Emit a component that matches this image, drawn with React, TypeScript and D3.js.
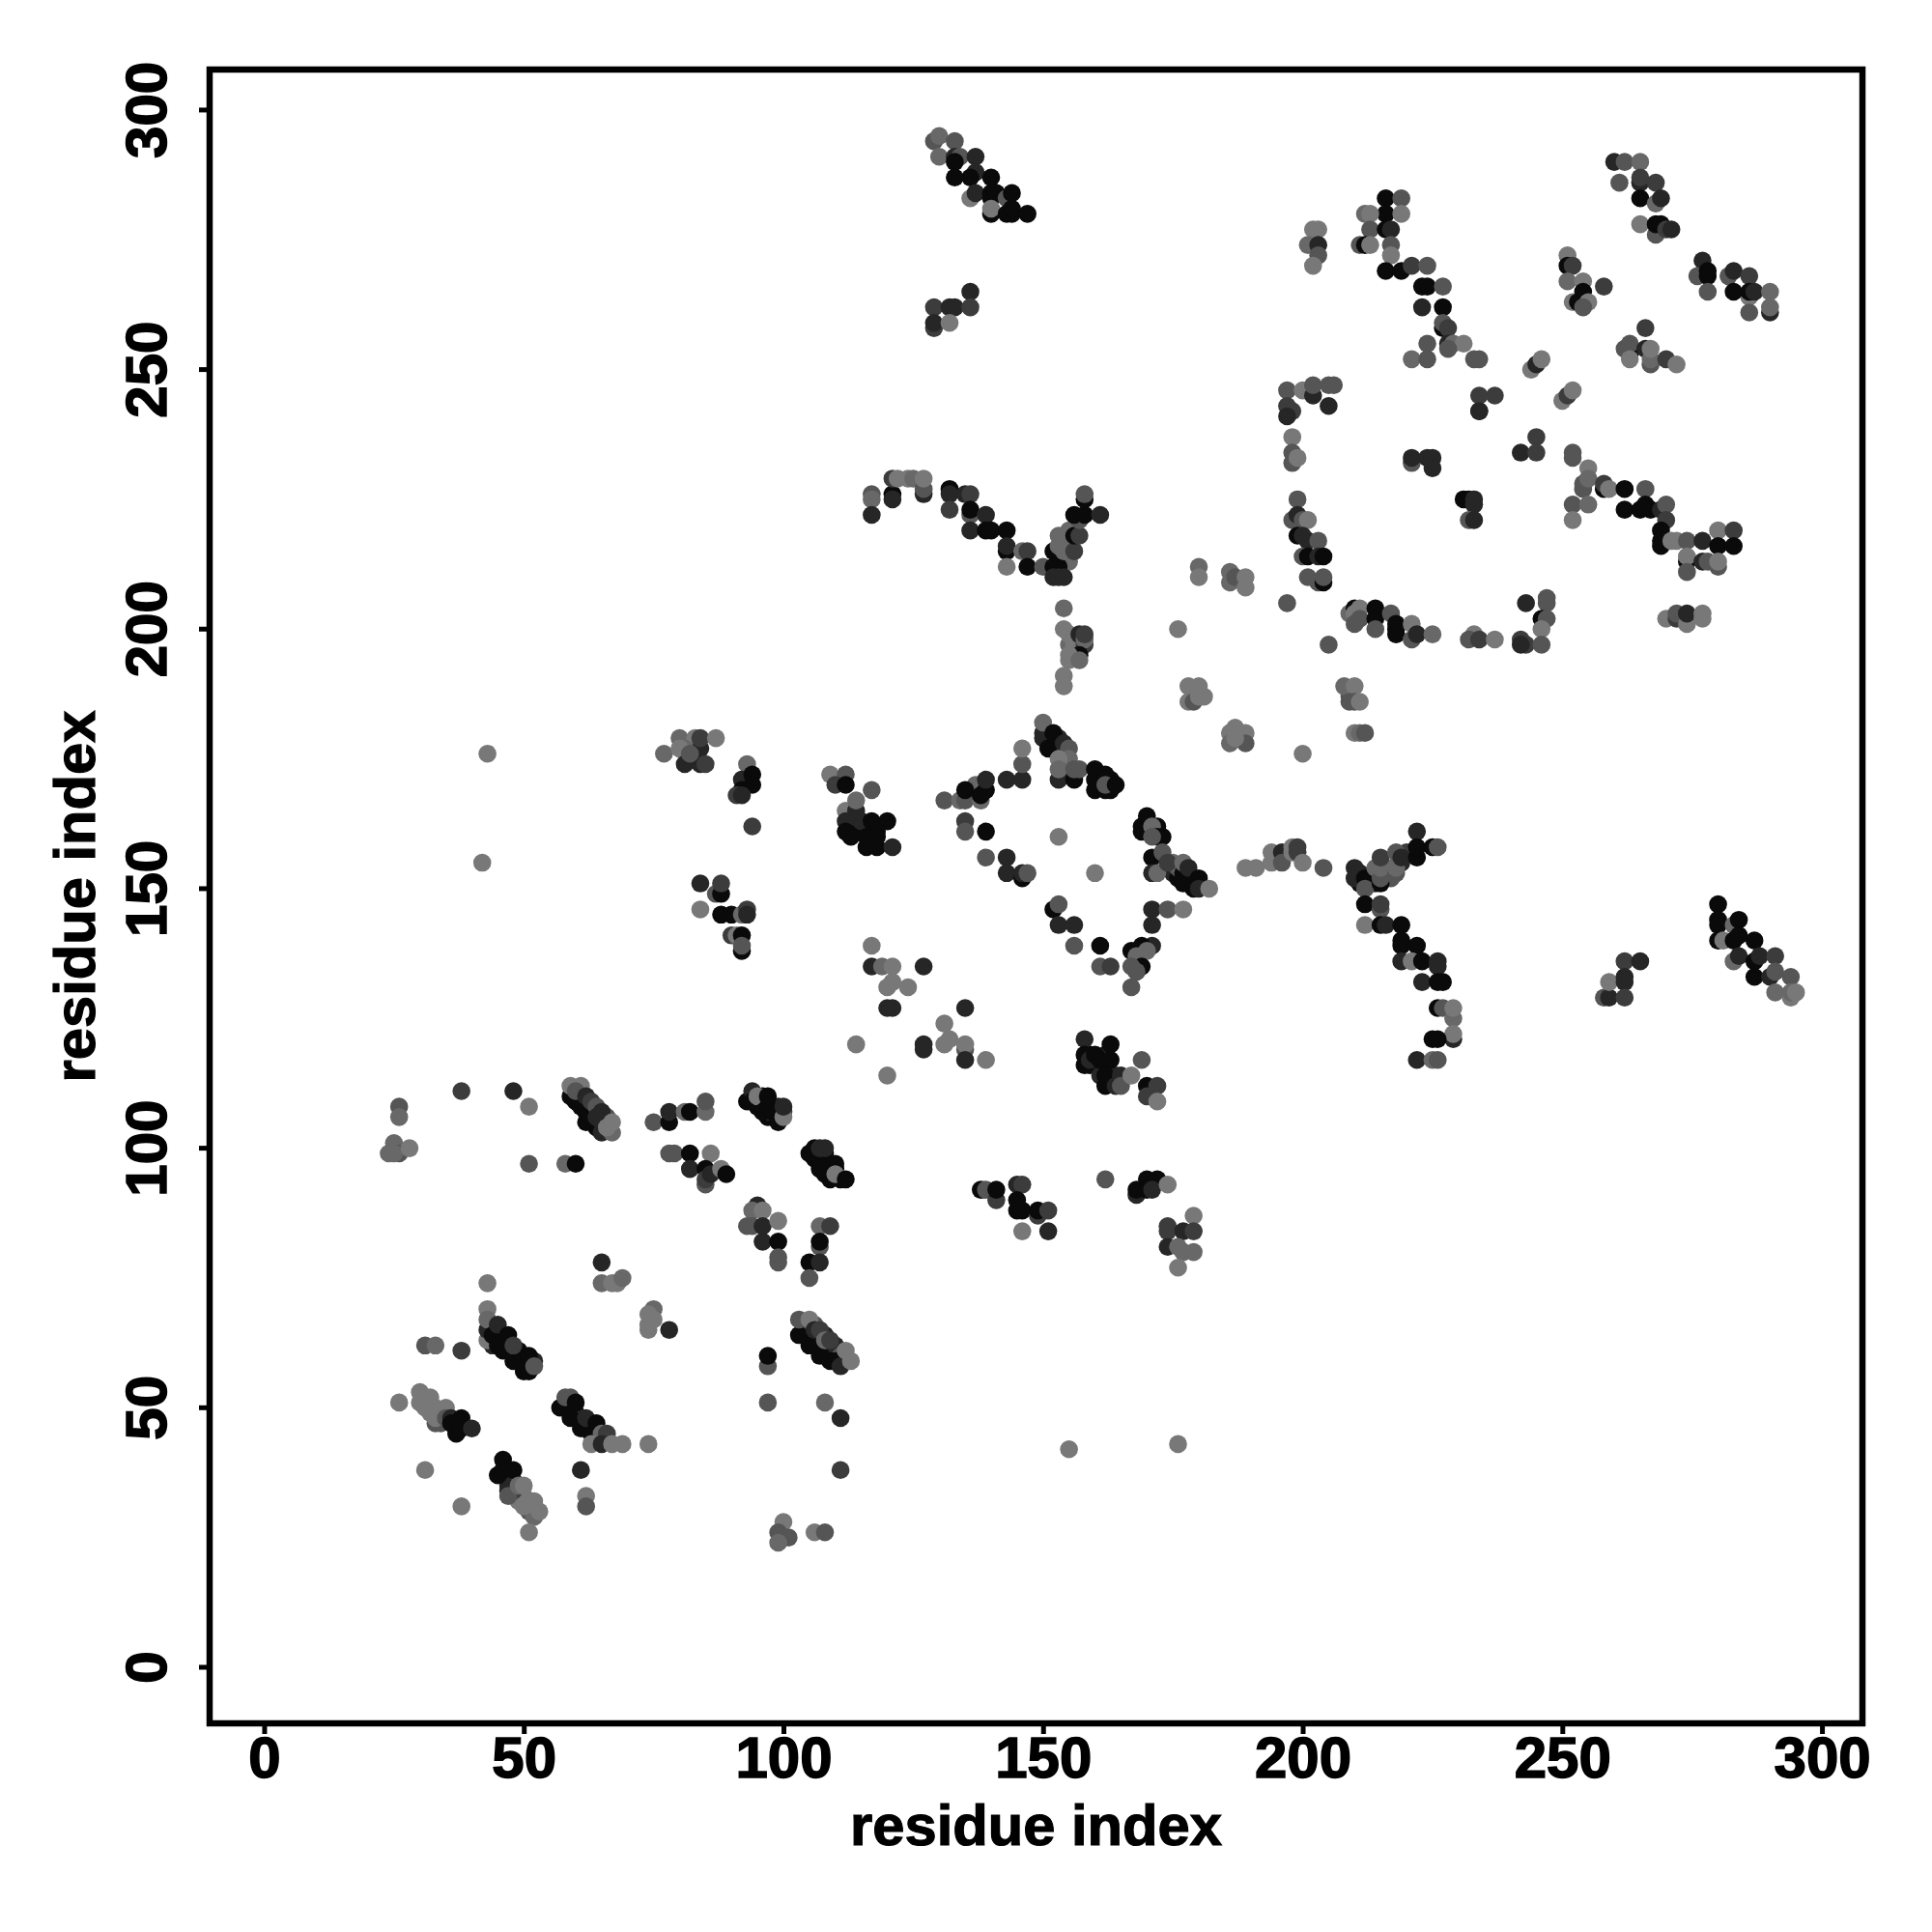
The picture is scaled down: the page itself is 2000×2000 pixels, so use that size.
import React from "react"
import * as d3 from "d3"

type Contact = [number, number, number]

// [residue i, residue j, shade] : shade 0 is the darkest, 5 the palest
const helixCores: Contact[] = [
  [46, 64, 0], [47, 62, 0], [48, 61, 0], [49, 59, 0], [50, 60, 0], [51, 59, 0], [52, 59, 1], [50, 58, 0], [44, 62, 1], [45, 64, 1],
  [61, 110, 3], [63, 107, 0], [65, 106, 1], [66, 106, 3], [62, 109, 1], [62, 105, 0],
  [95, 108, 0], [95, 109, 0], [96, 109, 0], [97, 106, 0], [98, 108, 0], [99, 107, 0], [98, 106, 0], [99, 108, 1], [100, 107, 2], [96, 110, 0], [97, 107, 1],
  [106, 98, 0], [107, 98, 0], [108, 97, 0], [109, 96, 0], [110, 96, 0], [108, 99, 0], [111, 94, 0],
  [104, 65, 0], [105, 64, 0], [106, 63, 0], [107, 62, 0], [108, 61, 0], [109, 61, 0], [110, 60, 0], [111, 59, 0], [106, 66, 3], [104, 66, 3], [108, 64, 1], [110, 62, 1], [111, 60, 3], [112, 59, 4],
  [58, 50, 0], [59, 50, 1], [60, 49, 0], [61, 48, 1], [62, 46, 0], [63, 47, 1], [64, 45, 0], [65, 44, 1], [66, 44, 1], [59, 52, 3],
  [31, 51, 5], [32, 50, 5], [34, 49, 5], [34, 47, 3], [37, 47, 0], [37, 46, 0], [38, 47, 0],
  [47, 36, 1], [47, 35, 1], [48, 33, 3], [49, 33, 5], [49, 32, 5], [48, 36, 1], [50, 33, 5], [48, 34, 2], [51, 31, 5],
  [113, 164, 1], [113, 162, 0], [114, 163, 0], [115, 161, 0], [116, 162, 0], [117, 161, 0], [117, 159, 0], [118, 161, 0], [115, 163, 1], [113, 160, 0],
  [151, 179, 0], [152, 178, 0], [153, 177, 1], [154, 176, 3], [153, 179, 1], [155, 173, 3], [154, 172, 4], [155, 172, 1], [161, 170, 0], [161, 172, 0], [163, 171, 0],
  [170, 162, 0], [170, 163, 0], [171, 161, 0],
  [175, 153, 1], [176, 152, 0], [178, 151, 0], [178, 152, 1], [179, 152, 1], [176, 154, 3], [175, 155, 4],
  [211, 151, 0], [213, 152, 0], [214, 151, 1], [216, 153, 4], [217, 154, 4], [217, 152, 3], [219, 155, 1], [220, 157, 2], [211, 153, 1],
  [159, 116, 0], [159, 118, 0], [160, 116, 0], [161, 115, 0], [162, 116, 0], [163, 114, 0], [163, 113, 0], [164, 114, 1], [161, 114, 1], [162, 118, 1],
  [155, 197, 4], [156, 197, 5], [156, 195, 4], [156, 196, 5], [158, 197, 2],
  [154, 217, 4], [155, 213, 4], [154, 213, 4], [155, 219, 4], [153, 212, 0],
]

const lowerLeft: Contact[] = [
  [26, 108, 3], [26, 106, 4], [25, 101, 4], [24, 99, 4], [26, 99, 3], [25, 99, 4], [28, 100, 5],
  [38, 111, 2], [48, 111, 1], [51, 108, 5], [51, 97, 3], [58, 97, 4], [60, 97, 0],
  [59, 110, 0], [60, 109, 0], [62, 107, 0], [63, 106, 0], [64, 104, 0], [65, 103, 1], [61, 108, 0],
  [59, 112, 5], [61, 112, 5], [60, 111, 3], [62, 110, 1], [63, 109, 2], [64, 108, 3], [65, 107, 1], [64, 106, 1], [65, 105, 1],
  [67, 103, 4], [66, 104, 5], [67, 105, 5],
  [75, 105, 3], [78, 105, 0], [78, 107, 1], [81, 107, 4], [82, 107, 0], [85, 107, 4], [85, 109, 3],
  [78, 99, 3], [79, 99, 3], [82, 99, 0], [86, 99, 5], [82, 96, 1], [85, 96, 0], [85, 93, 3], [85, 94, 2], [86, 95, 1], [88, 96, 5], [89, 95, 0],
  [93, 109, 0], [94, 111, 1], [94, 109, 0], [95, 110, 5], [96, 107, 0], [97, 110, 0], [97, 108, 0], [98, 107, 0], [99, 105, 0], [100, 106, 5], [100, 108, 1],
  [105, 99, 0], [106, 100, 0], [107, 100, 1], [108, 100, 1], [107, 96, 0], [108, 95, 0], [110, 97, 0], [109, 94, 0], [110, 95, 5], [112, 94, 0],
  [95, 89, 1], [94, 88, 4], [96, 88, 5], [93, 85, 3], [94, 85, 3], [96, 85, 1], [99, 86, 5], [96, 82, 1], [99, 82, 0], [99, 79, 3], [99, 78, 3],
  [107, 85, 4], [109, 85, 2], [107, 81, 3], [107, 82, 0], [105, 78, 0], [107, 78, 1], [105, 75, 3],
  [65, 78, 1], [65, 74, 4], [67, 74, 5], [68, 74, 5], [69, 75, 4],
  [43, 74, 5], [43, 69, 5], [43, 63, 5], [43, 65, 1], [43, 67, 4], [44, 64, 0], [45, 62, 0], [46, 61, 0], [48, 59, 0], [50, 57, 0], [51, 57, 0], [49, 61, 0], [51, 60, 0],
  [45, 66, 1], [47, 64, 0], [48, 62, 2], [52, 58, 3],
  [31, 62, 3], [33, 62, 4], [38, 61, 2],
  [74, 65, 5], [75, 69, 4], [74, 66, 5], [74, 68, 5], [75, 67, 5], [78, 65, 1],
  [103, 64, 0], [105, 62, 0], [107, 60, 0], [109, 59, 0], [110, 59, 0], [111, 58, 1],
  [103, 67, 3], [105, 67, 5], [106, 65, 1], [107, 65, 2], [108, 63, 4], [109, 63, 2], [112, 61, 5], [113, 59, 5],
  [97, 58, 3], [97, 60, 0], [97, 51, 3], [108, 51, 4], [111, 48, 1], [111, 38, 2],
]

const lowerLeftPairs: Contact[] = [
  [26, 51, 5], [33, 47, 3], [30, 53, 5], [32, 52, 5], [30, 51, 5], [31, 50, 5], [33, 50, 5], [35, 50, 5], [33, 48, 5], [32, 49, 5],
  [35, 48, 3], [36, 48, 1], [37, 45, 0], [36, 47, 0], [38, 48, 0], [38, 46, 0], [40, 46, 1],
  [46, 40, 0], [45, 37, 0], [46, 38, 0], [48, 38, 0], [47, 34, 1], [47, 33, 3], [49, 35, 4], [50, 35, 5], [51, 30, 3], [52, 29, 4], [50, 31, 5], [51, 32, 5], [52, 32, 5], [53, 30, 5],
  [51, 26, 5], [31, 38, 5], [38, 31, 5], [61, 38, 1], [62, 33, 5], [62, 31, 3],
  [57, 50, 0], [59, 48, 0], [61, 46, 0], [63, 45, 0], [58, 52, 3], [60, 51, 0], [62, 48, 1], [64, 47, 0], [65, 45, 4], [66, 45, 2], [63, 43, 5], [65, 43, 1], [67, 43, 5], [69, 43, 5], [74, 43, 5],
  [100, 28, 5], [99, 26, 3], [101, 25, 3], [99, 24, 4], [106, 26, 5], [108, 26, 3],
]

const middleLeft: Contact[] = [
  [77, 176, 4], [80, 179, 4], [83, 179, 5], [84, 177, 1], [84, 179, 2], [87, 179, 5], [81, 177, 4], [80, 177, 5], [81, 174, 1], [84, 174, 1], [85, 174, 2], [82, 176, 3],
  [93, 174, 4], [92, 171, 1], [92, 169, 0], [94, 172, 0], [94, 170, 0], [91, 168, 2], [92, 168, 1], [94, 162, 2],
  [109, 172, 5], [112, 172, 3], [110, 170, 2], [112, 170, 0], [117, 169, 3], [112, 165, 5], [114, 165, 1], [114, 167, 4], [112, 163, 1], [112, 161, 0],
  [117, 163, 0], [120, 163, 0], [116, 160, 0], [116, 158, 0], [118, 158, 0], [118, 160, 0], [121, 158, 1],
  [84, 151, 1], [87, 149, 3], [88, 149, 0], [88, 151, 2], [84, 146, 5], [88, 145, 0], [90, 145, 0], [92, 145, 4], [93, 146, 2], [93, 145, 1],
  [90, 141, 2], [91, 141, 5], [92, 141, 0], [92, 138, 0], [92, 139, 3],
  [117, 139, 5], [117, 135, 1], [119, 135, 4], [121, 135, 5], [127, 135, 1], [120, 131, 5], [124, 131, 5], [121, 132, 5], [120, 127, 1], [121, 127, 1], [135, 127, 1],
  [131, 124, 5], [127, 120, 1], [127, 119, 1], [131, 120, 5], [132, 121, 5], [135, 119, 3], [135, 120, 5], [135, 117, 1], [139, 117, 5], [114, 120, 5], [120, 114, 5],
  [43, 176, 5], [42, 155, 5], [155, 42, 5], [176, 43, 5],
]

const centerRing: Contact[] = [
  [131, 167, 3], [134, 167, 4], [135, 167, 3], [137, 170, 4], [135, 169, 0], [138, 167, 4], [138, 168, 0], [139, 169, 0], [139, 171, 1], [143, 171, 1], [146, 171, 1], [146, 174, 3], [146, 177, 5],
  [135, 163, 2], [135, 161, 3], [139, 161, 0], [139, 156, 3], [143, 156, 1], [143, 153, 1], [146, 152, 0], [146, 153, 1], [147, 153, 3], [153, 160, 5], [160, 153, 5],
  [152, 146, 0], [153, 147, 3], [153, 143, 1], [156, 143, 1], [156, 139, 3], [161, 139, 0], [161, 135, 3], [163, 135, 2],
  [150, 180, 1], [150, 179, 1], [150, 182, 4], [151, 177, 0], [152, 180, 0], [154, 178, 1], [155, 177, 3], [155, 175, 4], [153, 175, 5], [153, 171, 1], [156, 171, 0], [153, 173, 4], [156, 173, 3], [157, 173, 3],
  [160, 173, 0], [160, 171, 0], [160, 169, 0], [162, 172, 0], [162, 169, 0], [163, 169, 0], [162, 170, 3], [164, 170, 0],
  [169, 162, 0], [169, 161, 0], [170, 164, 0], [172, 162, 0], [171, 162, 4], [172, 160, 0], [173, 160, 0], [171, 160, 3],
  [171, 156, 0], [173, 157, 3], [171, 153, 1], [172, 153, 4], [174, 155, 2], [177, 153, 0], [177, 151, 0], [177, 155, 4], [178, 154, 1], [180, 152, 0], [179, 150, 0], [180, 150, 1], [182, 150, 5],
  [171, 146, 1], [174, 146, 3], [177, 146, 5], [171, 143, 1], [171, 139, 1], [169, 139, 0], [167, 138, 0], [168, 137, 4], [170, 138, 4], [169, 135, 0], [167, 135, 3], [168, 134, 3], [167, 131, 3],
]

const lowerMiddle: Contact[] = [
  [158, 121, 1], [163, 120, 0], [158, 118, 0], [158, 116, 0], [159, 117, 1], [160, 118, 0], [161, 117, 0], [163, 117, 0], [162, 114, 0], [162, 112, 0], [164, 112, 1], [165, 114, 1], [165, 112, 3], [167, 114, 5], [169, 117, 3],
  [170, 112, 0], [172, 112, 2], [170, 110, 2], [172, 109, 5],
  [138, 92, 0], [139, 92, 3], [141, 90, 2], [141, 92, 0], [145, 93, 1], [146, 93, 2], [145, 90, 0], [145, 88, 0], [146, 88, 0], [149, 87, 2], [149, 88, 0], [151, 88, 2], [146, 84, 5], [151, 84, 1],
  [162, 94, 3], [168, 91, 1], [168, 92, 0], [170, 94, 0], [172, 94, 0], [170, 92, 0], [171, 92, 1], [174, 93, 5],
  [174, 85, 2], [174, 84, 2], [179, 87, 5], [177, 84, 1], [179, 84, 2], [174, 81, 1], [176, 81, 4], [177, 80, 4], [179, 80, 4], [176, 77, 5],
]

const upperMiddle: Contact[] = [
  [117, 226, 3], [117, 225, 4], [117, 222, 1], [121, 226, 0], [121, 225, 1], [121, 229, 2], [122, 229, 5], [124, 229, 5], [125, 229, 4], [127, 226, 1], [127, 227, 3], [127, 229, 5],
  [132, 227, 0], [132, 226, 1], [135, 226, 1], [136, 226, 2], [132, 223, 2], [136, 222, 3], [136, 223, 0], [139, 222, 1], [136, 219, 1], [139, 219, 0], [140, 219, 0], [143, 219, 0],
  [143, 215, 0], [143, 216, 1], [146, 215, 4], [147, 215, 2], [143, 212, 5], [147, 212, 0], [150, 212, 3], [152, 215, 0], [152, 212, 0], [152, 210, 1], [153, 210, 1], [154, 210, 1],
  [153, 218, 4], [153, 216, 4], [154, 215, 4], [156, 215, 2], [156, 218, 0], [157, 218, 2], [157, 221, 3], [156, 222, 0], [158, 222, 0], [161, 222, 1], [158, 225, 0], [158, 226, 3],
  [154, 204, 4], [154, 200, 5], [155, 199, 5], [157, 199, 1], [158, 198, 4], [158, 199, 2], [157, 195, 0], [155, 195, 5], [155, 194, 5], [157, 194, 4], [154, 191, 5], [154, 189, 5],
  [180, 212, 4], [180, 210, 5], [186, 211, 4], [186, 209, 4], [187, 210, 3], [189, 210, 5], [189, 208, 5], [197, 205, 3], [176, 200, 5],
  [178, 189, 5], [180, 189, 5], [178, 186, 5], [179, 186, 3], [181, 187, 5], [180, 187, 5],
  [187, 181, 5], [186, 180, 5], [189, 180, 5], [186, 178, 4], [189, 178, 3], [187, 179, 5], [200, 176, 5],
  [129, 294, 3], [130, 295, 4], [133, 294, 3], [130, 291, 4], [133, 291, 1], [134, 291, 3], [133, 290, 0], [137, 291, 1], [133, 287, 0], [137, 288, 1], [136, 287, 0], [140, 287, 0],
  [136, 283, 5], [137, 284, 1], [140, 284, 0], [140, 283, 0], [141, 284, 0], [143, 283, 3], [144, 284, 0], [140, 280, 0], [140, 281, 5], [143, 280, 0], [144, 280, 0], [144, 281, 0], [147, 280, 0],
  [129, 258, 2], [129, 262, 2], [132, 262, 1], [133, 262, 1], [136, 265, 1], [136, 262, 2], [129, 259, 1], [132, 259, 5],
]

const middleRight: Contact[] = [
  [189, 154, 5], [191, 154, 5], [194, 157, 5], [194, 155, 5], [196, 157, 1], [196, 155, 3], [198, 158, 5], [198, 157, 5], [199, 158, 2], [199, 157, 2], [200, 155, 5], [204, 154, 3],
  [210, 154, 1], [210, 152, 1], [212, 152, 0], [212, 150, 3], [215, 151, 0], [214, 154, 4], [215, 152, 3], [215, 154, 4], [215, 156, 2], [218, 153, 3], [218, 154, 4], [218, 157, 3], [219, 156, 1],
  [222, 161, 1], [222, 156, 0], [222, 158, 0], [225, 158, 0], [226, 158, 3],
  [212, 147, 0], [215, 146, 3], [215, 147, 2], [212, 143, 5], [215, 143, 0], [216, 143, 1], [219, 143, 0], [219, 140, 0], [219, 139, 0], [222, 139, 0],
  [219, 136, 1], [221, 136, 5], [223, 136, 0], [226, 136, 1], [226, 135, 1], [223, 132, 1], [226, 132, 0], [227, 132, 0],
  [226, 127, 0], [227, 127, 3], [229, 121, 1], [229, 125, 4], [229, 122, 5], [229, 127, 5], [225, 121, 0], [226, 121, 0], [222, 117, 1], [225, 117, 4], [226, 117, 3],
  [258, 129, 3], [259, 129, 1], [259, 132, 5], [262, 136, 2], [265, 136, 1], [262, 133, 1], [262, 132, 1], [262, 129, 2],
  [280, 147, 0], [280, 144, 0], [280, 143, 0], [283, 143, 4], [284, 144, 0], [280, 140, 0], [281, 140, 5], [283, 140, 0], [284, 141, 0], [287, 140, 0],
  [283, 136, 4], [284, 137, 1], [287, 136, 0], [288, 137, 1], [291, 137, 2], [287, 133, 0], [290, 133, 1], [291, 134, 3], [294, 133, 3], [291, 130, 4], [294, 129, 5], [294, 130, 4], [295, 130, 5],
]

const upperRight: Contact[] = [
  [234, 242, 1], [245, 237, 2], [242, 234, 1], [245, 234, 2], [252, 234, 3], [252, 233, 3], [255, 231, 5], [254, 228, 3], [254, 227, 3], [255, 229, 4], [258, 227, 0], [258, 228, 2], [259, 227, 5],
  [262, 227, 0], [266, 227, 3], [252, 224, 3], [255, 224, 4], [252, 221, 5], [262, 223, 0], [265, 223, 0], [266, 224, 0], [267, 223, 0], [269, 223, 1], [270, 224, 3], [270, 221, 2],
  [269, 219, 0], [269, 217, 0], [269, 216, 0], [271, 217, 5], [272, 217, 5], [274, 217, 3], [274, 213, 0], [274, 214, 5], [274, 211, 3], [277, 217, 1], [277, 213, 1], [278, 213, 3],
  [280, 219, 5], [283, 219, 2], [280, 216, 0], [283, 216, 0], [280, 212, 3], [280, 213, 5],
  [221, 232, 3], [221, 233, 1], [224, 233, 1], [225, 233, 1], [225, 231, 1],
  [231, 225, 0], [232, 225, 0], [233, 225, 1], [233, 224, 1], [232, 221, 3], [233, 221, 1],
  [243, 205, 1], [247, 206, 3], [247, 205, 3], [246, 202, 0], [247, 202, 3], [246, 200, 5], [242, 198, 2], [243, 197, 2], [242, 197, 1], [246, 197, 3],
  [233, 199, 5], [232, 198, 3], [234, 198, 2], [237, 198, 5],
  [209, 203, 4], [210, 204, 0], [210, 203, 5], [210, 201, 3], [211, 204, 5], [211, 202, 3], [214, 204, 0], [214, 202, 0], [214, 200, 3], [217, 203, 3], [218, 201, 0], [218, 200, 0], [218, 199, 0], [221, 198, 3], [221, 201, 5], [222, 199, 1], [225, 199, 4],
  [270, 202, 5], [272, 202, 2], [272, 203, 3], [274, 201, 5], [274, 203, 1], [277, 203, 5], [277, 202, 5],
  [216, 283, 0], [219, 283, 3], [216, 280, 0], [219, 280, 5], [212, 280, 4], [213, 280, 5], [213, 277, 3], [216, 277, 0], [217, 277, 1],
  [211, 274, 3], [212, 274, 0], [213, 274, 5], [217, 274, 3], [217, 272, 5], [216, 269, 0], [219, 269, 0], [221, 270, 2], [224, 270, 3], [223, 266, 0], [224, 266, 0], [227, 266, 3], [223, 262, 1], [227, 262, 0],
  [227, 258, 0], [227, 259, 3], [228, 258, 2], [228, 255, 1], [224, 255, 3], [229, 255, 4], [231, 255, 5], [228, 254, 3], [221, 252, 4], [224, 252, 3], [233, 252, 3], [234, 252, 3],
  [202, 277, 5], [203, 277, 5], [201, 274, 4], [203, 274, 1], [203, 272, 3], [202, 270, 5],
  [197, 246, 3], [200, 246, 5], [202, 245, 1], [202, 247, 3], [205, 247, 3], [206, 247, 3], [205, 243, 1], [197, 243, 2], [198, 242, 2], [197, 241, 1],
  [198, 237, 5], [198, 234, 3], [198, 232, 3], [199, 233, 5],
  [234, 245, 2], [237, 245, 2], [234, 242, 1],
  [244, 250, 5], [245, 251, 1], [246, 252, 5], [250, 244, 5], [251, 245, 2], [252, 246, 5],
  [251, 272, 5], [251, 270, 0], [252, 270, 2], [251, 267, 4], [254, 267, 5], [254, 265, 0], [258, 266, 2], [252, 263, 5], [253, 263, 0], [255, 263, 5], [254, 262, 3],
  [260, 290, 1], [262, 290, 3], [265, 290, 4], [261, 286, 3], [265, 286, 1], [265, 287, 2], [268, 286, 2], [265, 283, 0], [268, 282, 4], [269, 283, 1],
  [265, 278, 5], [268, 276, 3], [268, 278, 0], [269, 278, 0], [270, 277, 2], [271, 277, 1],
  [266, 258, 2], [263, 253, 0], [262, 254, 3], [263, 255, 3], [263, 252, 5], [266, 254, 1], [267, 251, 3], [267, 252, 4], [267, 254, 5], [270, 252, 2], [272, 251, 5],
  [277, 271, 1], [276, 268, 3], [278, 268, 0], [278, 269, 0], [278, 265, 3], [282, 268, 3], [283, 269, 1], [286, 268, 2], [286, 264, 5], [283, 265, 0], [286, 265, 0], [287, 265, 1], [286, 261, 3], [290, 265, 4], [290, 261, 1], [290, 262, 4],
]

const upperCenterRight: Contact[] = [
  [199, 225, 3], [198, 221, 3], [199, 222, 1], [200, 221, 3], [201, 221, 5], [199, 218, 0], [200, 218, 1], [201, 217, 1], [203, 217, 3],
  [200, 214, 3], [201, 214, 0], [203, 214, 1], [204, 214, 0], [201, 210, 3], [203, 209, 3], [204, 209, 0], [204, 210, 3],
  [205, 197, 3], [209, 187, 3], [208, 189, 4], [210, 189, 5], [209, 186, 3], [210, 186, 3], [211, 186, 5], [210, 180, 5], [211, 180, 4], [212, 180, 3],
]

const contacts = [
  ...helixCores, ...lowerLeft, ...lowerLeftPairs, ...middleLeft, ...centerRing,
  ...lowerMiddle, ...upperMiddle, ...middleRight, ...upperRight, ...upperCenterRight,
]

const axisTicks = [0, 50, 100, 150, 200, 250, 300]
const shades = ["#0a0a0a", "#262626", "#3c3c3c", "#555555", "#686868", "#787878"]

export default function App() {
  const svgRef = React.useRef<SVGSVGElement>(null)

  React.useEffect(() => {
    const svg = d3.select(svgRef.current)
    svg.selectAll("*").remove()

    const left = 217, right = 1928, top = 72, bottom = 1784
    const x = d3.scaleLinear().domain([-10.5, 307.8]).range([left, right])
    const y = d3.scaleLinear().domain([-10.8, 307.8]).range([bottom, top])
    const gray = d3.scaleOrdinal<number, string>().domain(d3.range(shades.length)).range(shades)

    svg.append("g")
      .selectAll("circle")
      .data(contacts)
      .join("circle")
      .attr("cx", d => x(d[0]))
      .attr("cy", d => y(d[1]))
      .attr("r", 9.3)
      .attr("fill", d => gray(d[2]))

    svg.append("rect")
      .attr("x", left)
      .attr("y", top)
      .attr("width", right - left)
      .attr("height", bottom - top)
      .attr("fill", "none")
      .attr("stroke", "black")
      .attr("stroke-width", 6.5)

    const xAxis = svg.append("g")
      .attr("transform", `translate(0,${bottom})`)
      .call(d3.axisBottom(x).tickValues(axisTicks).tickFormat(d3.format("d")).tickSize(11).tickPadding(3))
    const yAxis = svg.append("g")
      .attr("transform", `translate(${left},0)`)
      .call(d3.axisLeft(y).tickValues(axisTicks).tickFormat(d3.format("d")).tickSize(11).tickPadding(3))

    for (const axis of [xAxis, yAxis]) {
      axis.select(".domain").remove()
      axis.selectAll("line").attr("stroke", "black").attr("stroke-width", 5)
      axis.selectAll("text")
        .attr("fill", "black")
        .attr("stroke", "black")
        .attr("stroke-width", 1.5)
        .attr("font-family", "Liberation Sans")
        .attr("font-weight", "bold")
        .attr("font-size", 60)
    }

    xAxis.selectAll("text").attr("y", 56).attr("dy", 0)
    yAxis.selectAll("text")
      .attr("text-anchor", "middle")
      .attr("dy", 0)
      .attr("x", 0)
      .attr("transform", d => `translate(-45,${y(d as number)}) rotate(-90)`)
      .attr("y", 0)
    yAxis.selectAll(".tick").attr("transform", null)
    yAxis.selectAll(".tick line").attr("transform", d => `translate(0,${y(d as number)})`)

    const label = (sel: d3.Selection<SVGTextElement, unknown, null, undefined>) =>
      sel.text("residue index")
        .attr("text-anchor", "middle")
        .attr("font-family", "Liberation Sans")
        .attr("font-weight", "bold")
        .attr("font-size", 59.7)
        .attr("stroke", "black")
        .attr("stroke-width", 1.2)

    svg.append("text").call(label).attr("x", (left + right) / 2).attr("y", 1910)
    svg.append("text").call(label)
      .attr("transform", `translate(98,${(top + bottom) / 2}) rotate(-90)`)
  }, [])

  return (
    <svg
      ref={svgRef}
      width={2000}
      height={2000}
      style={{ position: "absolute", left: 0, top: 0, background: "white" }}
    />
  )
}
